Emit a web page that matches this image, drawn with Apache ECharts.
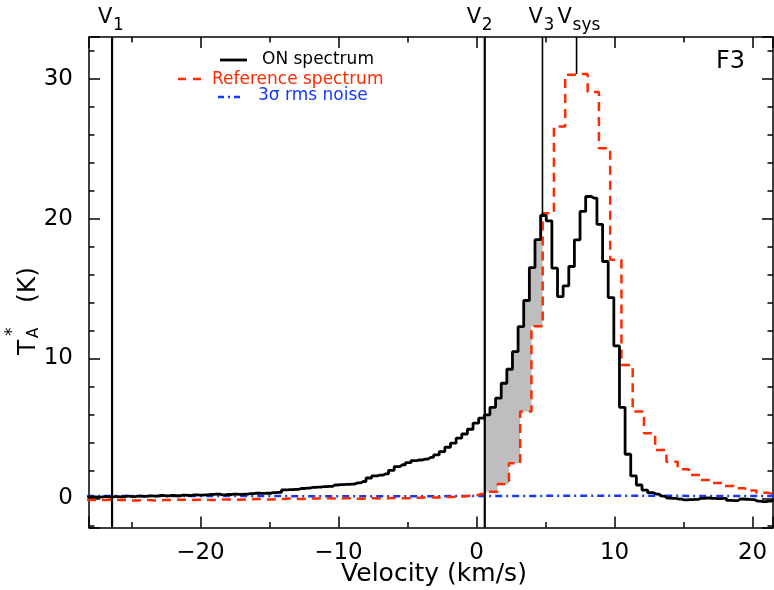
<!DOCTYPE html>
<html><head><meta charset="utf-8">
<script src="https://cdn.jsdelivr.net/npm/echarts@6/dist/echarts.min.js"></script>
<style>html,body{margin:0;padding:0;background:#fff}#c{width:774px;height:590px}</style>
</head><body><div id="c"></div>
<script>
// ---- data ----
// ON spectrum: channel grid (km/s) and antenna temperatures (K)
const onStart = -28.198, onStep = 0.408;
const onValues = [
 0.10,0.10,0.08,0.12,0.10,0.12,0.10,0.15,0.12,0.15,0.14,0.17,0.15,0.20,0.17,0.20,0.18,0.22,0.20,0.25,
 0.22,0.25,0.28,0.30,0.25,0.27,0.30,0.28,0.30,0.33,0.36,0.35,0.36,0.40,0.42,0.60,0.62,0.64,0.70,0.72,
 0.78,0.80,0.83,0.85,0.95,0.98,1.00,1.02,1.10,1.20,1.45,1.60,1.65,1.75,2.00,2.26,2.40,2.55,2.70,2.74,
 2.80,2.93,3.10,3.34,3.65,3.94,4.30,4.60,4.94,5.37,5.73,5.96,6.51,7.16,8.23,9.23,10.49,12.28,14.15,16.50,
 18.50,20.23,19.85,16.46,14.43,15.20,16.58,18.49,20.52,21.59,21.47,19.60,16.94,14.36,10.90,6.51,3.15,1.60,0.95,0.59,
 0.40,0.30,0.16,0.02,0.00,-0.05,-0.12,-0.10,-0.08,0.00,0.02,0.00,-0.02,0.00,-0.15,-0.17,-0.05,-0.07,-0.10,-0.20,
 -0.24,-0.20,-0.10
];
// Reference spectrum: coarser channel grid
const refStart = -28.2125, refStep = 0.815;
const refValues = [
 -0.12,-0.12,-0.10,-0.12,-0.15,-0.12,-0.15,-0.12,-0.10,-0.12,-0.10,-0.12,-0.08,-0.10,-0.08,-0.05,-0.08,-0.05,-0.02,-0.05,
 -0.02,0.00,-0.02,0.00,-0.03,0.00,-0.02,0.02,0.00,0.03,0.05,0.05,0.10,0.12,0.18,0.30,
 0.47,1.02,2.50,6.20,12.30,20.40,26.60,30.30,30.35,29.06,25.05,17.06,9.54,6.20,4.65,3.46,2.62,2.08,1.67,1.30,
 1.10,0.88,0.72,0.55,0.40,0.29,0.25
];
// 3 sigma rms noise level
const noiseVel = [-28.2,-24,-20,-16,-12,-8,-4,0,4,8,12,16,20,21.6];
const noiseValues = [0.17,0.17,0.16,0.16,0.15,0.15,0.15,0.16,0.17,0.18,0.18,0.17,0.17,0.17];
// velocity markers
const markerSub = ['1','2','3','sys'];
const markerVel = [-26.4, 0.6, 4.78, 7.25];
const markerTop = [null, null, 20.2, 30.35];   // lower end of the marker (null = full height)
// axis ticks
const xTickValues = [-20,-10,0,10,20];
const yTickValues = [0,10,20,30];
const legendLabels = ['ON spectrum','Reference spectrum','3\u03c3 rms noise'];
const panelLabel = 'F3';

// ---- styling ----
const X_MIN = -28.07, X_MAX = 21.48, Y_MIN = -2.09, Y_MAX = 33.0;
const RED = '#ff2a00', BLUE = '#1438ff', GRAY = '#bebebe';
const FONT = 'DejaVu Sans';
const markerDx = [-14, -18, -14, -19];

const onData = onValues.map((t,i)=>[onStart + i*onStep, t]);
const refData = refValues.map((t,i)=>[refStart + i*refStep, t]);
const noiseData = noiseVel.map((v,i)=>[v, noiseValues[i]]);

function stepValue(vals, start, step, v){
  let i = Math.floor((v - (start - step/2))/step);
  i = Math.max(0, Math.min(vals.length-1, i));
  return vals[i];
}
function boundaries(start, step, a, b){
  const out = [];
  const first = start - step/2;
  let n = Math.ceil((a - first)/step);
  for(;;){ const e = first + n*step; if (e >= b) break; if (e > a) out.push(e); n++; }
  return out;
}

const chart = echarts.init(document.getElementById('c'), null, {renderer:'canvas'});

function fmt(list){ return v => list.some(t=>Math.abs(t-v)<1e-6) ? (v<0 ? '\u2212'+Math.abs(v) : String(v)) : ''; }

const axisCommon = {
  type:'value', splitLine:{show:false},
  axisLine:{show:true, onZero:false, lineStyle:{color:'#000', width:1.5}},
  axisTick:{show:true, inside:true, length:11, lineStyle:{color:'#000', width:1.5}},
  minorTick:{show:true, length:5.5, lineStyle:{color:'#000', width:1.5}},
};

const option = {
  animation:false,
  backgroundColor:'#fff',
  textStyle:{fontFamily:FONT},
  grid:{left:89, right:1, top:37, bottom:62.5, containLabel:false},
  xAxis:[
    Object.assign({}, axisCommon, {position:'bottom', min:X_MIN, max:X_MAX,
      minorTick:Object.assign({}, axisCommon.minorTick, {splitNumber:2}),
      axisLabel:{show:true, color:'#000', fontSize:23, fontFamily:FONT, margin:14, formatter:fmt(xTickValues), showMinLabel:false, showMaxLabel:false}}),
    Object.assign({}, axisCommon, {position:'top', min:X_MIN, max:X_MAX,
      minorTick:Object.assign({}, axisCommon.minorTick, {splitNumber:2}),
      axisLabel:{show:false}})
  ],
  yAxis:[
    Object.assign({}, axisCommon, {position:'left', min:Y_MIN, max:Y_MAX,
      minorTick:Object.assign({}, axisCommon.minorTick, {splitNumber:5}),
      axisLabel:{show:true, color:'#000', fontSize:23, fontFamily:FONT, margin:16, formatter:fmt(yTickValues), showMinLabel:false, showMaxLabel:false}}),
    Object.assign({}, axisCommon, {position:'right', min:Y_MIN, max:Y_MAX,
      minorTick:Object.assign({}, axisCommon.minorTick, {splitNumber:5}),
      axisLabel:{show:false}})
  ],
  series:[
    { // shaded excess between V2 and V3
      type:'custom', coordinateSystem:'cartesian2d', data:[[0,0]], z:1, silent:true,
      renderItem:function(params, api){
        const a = markerVel[1], b = markerVel[2];
        const pts = [];
        pts.push([a, stepValue(onValues,onStart,onStep,a)]);
        boundaries(onStart,onStep,a,b).forEach(e=>{
          pts.push([e, stepValue(onValues,onStart,onStep,e-1e-6)]);
          pts.push([e, stepValue(onValues,onStart,onStep,e+1e-6)]);
        });
        pts.push([b, stepValue(onValues,onStart,onStep,b)]);
        pts.push([b, stepValue(refValues,refStart,refStep,b)]);
        boundaries(refStart,refStep,a,b).reverse().forEach(e=>{
          pts.push([e, stepValue(refValues,refStart,refStep,e+1e-6)]);
          pts.push([e, stepValue(refValues,refStart,refStep,e-1e-6)]);
        });
        pts.push([a, stepValue(refValues,refStart,refStep,a)]);
        return {type:'polygon', shape:{points:pts.map(p=>api.coord(p))}, style:{fill:GRAY}};
      }
    },
    {type:'line', name:'noise', data:noiseData, symbol:'none', z:3, silent:true,
      lineStyle:{color:BLUE, width:2.5, type:[7,4,2,4]}},
    {type:'line', name:'ref', data:refData, step:'middle', symbol:'none', z:4, silent:true,
      lineStyle:{color:RED, width:2.5, type:[9,6]}},
    {type:'line', name:'on', data:onData, step:'middle', symbol:'none', z:5, silent:true,
      lineStyle:{color:'#000', width:2.8}},
    { // velocity markers
      type:'custom', coordinateSystem:'cartesian2d', clip:false, z:6, silent:true,
      data:markerVel.map((v,i)=>[v, markerTop[i]==null ? Y_MIN : markerTop[i]]),
      renderItem:function(params, api){
        const i = params.dataIndex;
        const p0 = api.coord([api.value(0), Y_MAX]);
        const p1 = api.coord([api.value(0), api.value(1)]);
        const w = markerTop[i]==null ? 2.2 : 1.6;
        const x0 = p0[0] + markerDx[i];
        return {type:'group', children:[
          {type:'line', shape:{x1:p0[0], y1:p0[1], x2:p1[0], y2:p1[1]}, style:{stroke:'#000', lineWidth:w}},
          {type:'text', style:{text:'V', x:x0, y:p0[1]-19.5, fill:'#000', font:'21px '+FONT, align:'left', verticalAlign:'middle'}},
          {type:'text', style:{text:markerSub[i], x:x0+15, y:p0[1]-11, fill:'#000', font:'17px '+FONT, align:'left', verticalAlign:'middle'}}
        ]};
      }
    }
  ],
  graphic:[
    {type:'line', shape:{x1:220,y1:60,x2:247,y2:60}, style:{stroke:'#000', lineWidth:2.8}},
    {type:'text', style:{text:legendLabels[0], x:262, y:60, fill:'#000', font:'17px '+FONT, verticalAlign:'middle'}},
    {type:'line', shape:{x1:178,y1:79,x2:201,y2:79}, style:{stroke:RED, lineWidth:2.5, lineDash:[8,7]}},
    {type:'text', style:{text:legendLabels[1], x:212, y:79.5, fill:RED, font:'17px '+FONT, verticalAlign:'middle'}},
    {type:'line', shape:{x1:218,y1:97,x2:243,y2:97}, style:{stroke:BLUE, lineWidth:2.5, lineDash:[6,4,2,4]}},
    {type:'text', style:{text:legendLabels[2], x:258, y:96, fill:BLUE, font:'17px '+FONT, verticalAlign:'middle'}},
    {type:'text', style:{text:panelLabel, x:716, y:62, fill:'#000', font:'24px '+FONT, verticalAlign:'middle'}},
    {type:'text', style:{text:'Velocity (km/s)', x:434, y:574, fill:'#000', font:'25px '+FONT, align:'center', verticalAlign:'middle'}},
    {type:'group', x:37, y:355, rotation:Math.PI/2, children:[
      {type:'text', style:{text:'T', x:0, y:-9, fill:'#000', font:'25px '+FONT, verticalAlign:'middle'}},
      {type:'text', style:{text:'A', x:17, y:-3, fill:'#000', font:'15px '+FONT, verticalAlign:'middle'}},
      {type:'text', style:{text:'*', x:19, y:-24, fill:'#000', font:'17px '+FONT, verticalAlign:'middle'}},
      {type:'text', style:{text:'(K)', x:52, y:-9, fill:'#000', font:'25px '+FONT, verticalAlign:'middle'}}
    ]}
  ]
};
chart.setOption(option);
</script>
</body></html>
